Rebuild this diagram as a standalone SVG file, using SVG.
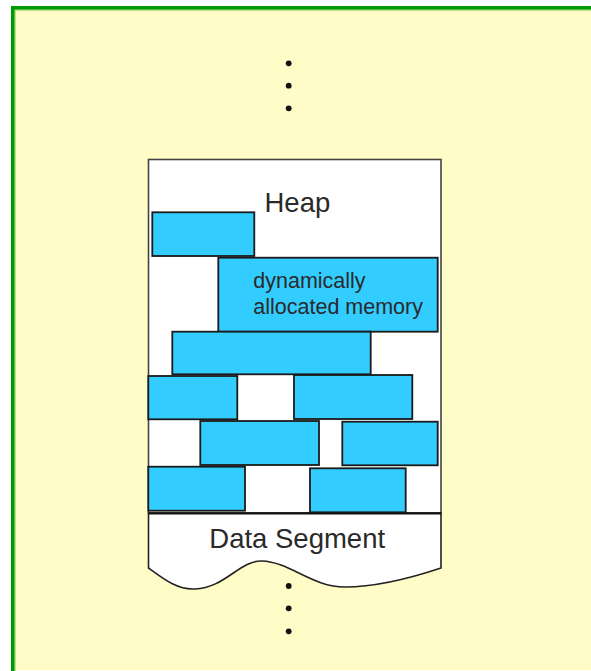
<svg xmlns="http://www.w3.org/2000/svg" width="591" height="671" viewBox="0 0 591 671">
<style>
.blk{fill:#33CCFF;stroke:#1a1a1a;stroke-width:1.8}
.lbl{font-family:"Liberation Sans",Arial,sans-serif;fill:#2a2a2a}
.dot{fill:#111}
</style>
<rect x="0" y="0" width="591" height="671" fill="#ffffff"/>
<rect x="13" y="8" width="578" height="662" fill="#FFFCC8"/>
<line x1="14" y1="10" x2="591" y2="10" stroke="#77CC55" stroke-width="1"/>
<line x1="15" y1="10" x2="15" y2="671" stroke="#77CC55" stroke-width="1"/>
<line x1="11" y1="7.75" x2="591" y2="7.75" stroke="#009900" stroke-width="3.5"/>
<line x1="12.75" y1="6" x2="12.75" y2="671" stroke="#009900" stroke-width="3.5"/>
<g id="dots-top">
<circle class="dot" cx="288.7" cy="63.3" r="2.9"/>
<circle class="dot" cx="288.7" cy="85.7" r="2.9"/>
<circle class="dot" cx="288.7" cy="108.3" r="2.9"/>
</g>
<g id="heap">
<rect x="148.5" y="159.5" width="292.5" height="353.5" fill="#ffffff" stroke="#444" stroke-width="1.6"/>
<text class="lbl" x="264.5" y="211.5" font-size="27.5">Heap</text>
</g>
<g id="blocks">
<rect class="blk" x="152.3" y="212.3" width="102" height="43.7"/>
<rect class="blk" x="218.3" y="257.7" width="219.4" height="74"/>
<rect class="blk" x="172.3" y="331.7" width="198.4" height="42.6"/>
<rect class="blk" x="148.3" y="376" width="89" height="43.3"/>
<rect class="blk" x="294" y="375" width="118.3" height="44"/>
<rect class="blk" x="200.3" y="421" width="118.7" height="44"/>
<rect class="blk" x="342.3" y="421.7" width="95.4" height="43.6"/>
<rect class="blk" x="148.3" y="466.7" width="96.7" height="44"/>
<rect class="blk" x="310" y="468.3" width="95.7" height="44"/>
<text class="lbl" x="253.3" y="288" font-size="21.5">dynamically</text>
<text class="lbl" x="253.3" y="314" font-size="21.5">allocated memory</text>
</g>
<g id="data-segment">
<path d="M148.5,513 V568 C165,580 178,590 195,589 C225,588 240,560 262,561 C290,562 312,587 345,587 C380,587 420,575 441,568 V513 Z" fill="#ffffff" stroke="#222" stroke-width="1.6"/>
<line x1="148.5" y1="513.5" x2="441" y2="513.5" stroke="#111" stroke-width="2.2"/>
<text class="lbl" x="209.3" y="547.5" font-size="27.5">Data Segment</text>
</g>
<g id="dots-bottom">
<circle class="dot" cx="288.7" cy="586" r="2.9"/>
<circle class="dot" cx="288.7" cy="608.3" r="2.9"/>
<circle class="dot" cx="288.7" cy="631.3" r="2.9"/>
</g>
</svg>
